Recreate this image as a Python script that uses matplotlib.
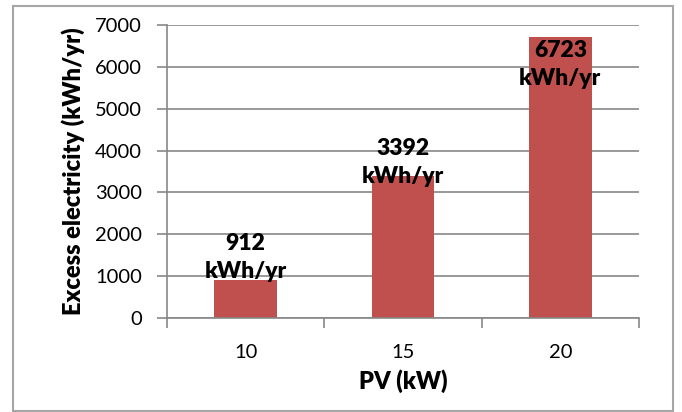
import matplotlib
matplotlib.use("Agg")
import matplotlib.pyplot as plt
from matplotlib.patches import Rectangle

# PV size (kW) against excess electricity (kWh/yr)
pv_sizes = ["10", "15", "20"]
excess = [912, 3392, 6723]
label_offsets = [2, -7, -48]  # pixels from bar top to baseline of the "kWh/yr" line

plt.rcParams["font.family"] = ["Lato", "DejaVu Sans"]

bar_color = "#C0504D"
grid_color = "#878787"

fig = plt.figure(figsize=(6.82, 4.12), dpi=100)
ax = fig.add_axes([167 / 682, 1 - 318 / 412, 472 / 682, 293 / 412])

x = list(range(len(pv_sizes)))
ax.bar(x, excess, width=0.40, color=bar_color, zorder=2)

# Data labels
for xi, val, off in zip(x, excess, label_offsets):
    ax.annotate(f"{val}\nkWh/yr", xy=(xi, val), xytext=(0, off),
                textcoords="offset pixels", ha="center", va="baseline",
                fontsize=16.5, fontweight="heavy", color="black",
                linespacing=1.4, zorder=3)

ax.set_xlim(-0.5, len(pv_sizes) - 0.5)
ax.set_ylim(0, 7000)
ax.set_yticks(range(0, 7001, 1000))
ax.yaxis.grid(True, color=grid_color, linewidth=1.2, zorder=0)
ax.set_axisbelow(True)

# Category labels in the middle, tick marks between categories
ax.set_xticks(x)
ax.set_xticklabels(pv_sizes)
ax.set_xticks([i - 0.5 for i in range(len(pv_sizes) + 1)], minor=True)
ax.tick_params(axis="x", which="major", length=0, pad=19, labelsize=14.5)
ax.tick_params(axis="x", which="minor", length=7, color=grid_color, width=1.2)
ax.tick_params(axis="y", length=7, color=grid_color, width=1.2, labelsize=14.5, pad=11)

for side in ["top", "right"]:
    ax.spines[side].set_visible(False)
for side in ["left", "bottom"]:
    ax.spines[side].set_color(grid_color)
    ax.spines[side].set_linewidth(1.2)

ax.set_xlabel("PV (kW)", fontsize=17, fontweight="heavy", labelpad=6)
ax.set_ylabel("Excess electricity (kWh/yr)", fontsize=17, fontweight="heavy", labelpad=7)

# Chart area border
fig.patches.append(Rectangle((13 / 682, 1 / 412), 660 / 682, 405 / 412,
                             transform=fig.transFigure, fill=False,
                             edgecolor="#A6A6A6", linewidth=1.5))

fig.savefig("out.png", dpi=100)
